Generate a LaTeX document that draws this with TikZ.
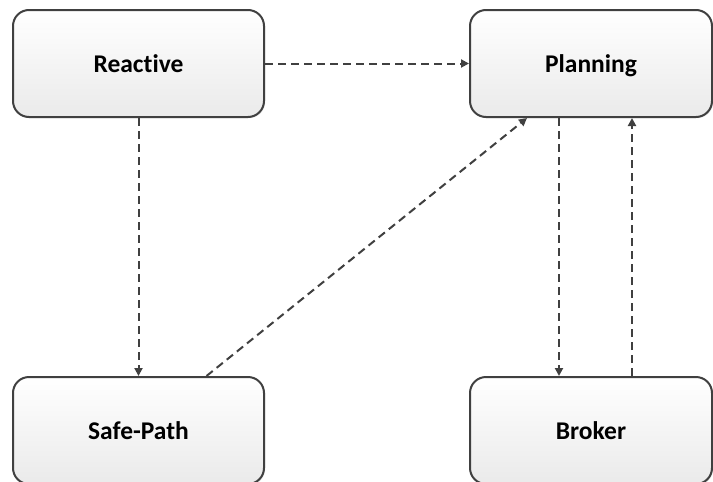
\documentclass[tikz,border=0pt]{standalone}
\usepackage{fontspec}
\setmainfont{Carlito}[RawFeature={-liga;-clig;-dlig}]
\usetikzlibrary{arrows.meta,shadows}
\definecolor{edge}{HTML}{404040}
\definecolor{boxbottom}{HTML}{EAEAEA}
\begin{document}
\begin{tikzpicture}[x=1pt,y=-1pt,
  block/.style={draw=edge, line width=2pt, rounded corners=16pt,
    top color=white, bottom color=boxbottom,
    drop shadow={opacity=0.18, shadow xshift=1.2pt, shadow yshift=-1.2pt},
    minimum height=107pt, inner sep=0pt, text height=20pt, text depth=3pt,
    font=\fontsize{25.5}{30}\selectfont\bfseries, text=black},
  flow/.style={draw=edge, line width=2pt, dash pattern=on 8pt off 5pt,
    -{Triangle[length=8pt,width=8pt]}}]
  \useasboundingbox (0,0) rectangle (713,482);
  \begin{scope}
    \clip (0,0) rectangle (713,482);
    % the four components
    \node[block, minimum width=251pt] (reactive) at (138.5,63.5) {Reactive};
    \node[block, minimum width=242pt] (planning) at (591,63.5) {Planning};
    \node[block, minimum width=251pt] (safepath) at (138.5,430.5) {Safe-Path};
    \node[block, minimum width=242pt] (broker) at (591,430.5) {Broker};
  \end{scope}
  % message flows between components
  \draw[flow] (reactive.east) -- (planning.west);
  \draw[flow] (reactive.south) -- (safepath.north);
  \draw[flow] ([xshift=68pt]safepath.north) -- ([xshift=-64pt]planning.south);
  \draw[flow] ([xshift=-32pt]planning.south) -- ([xshift=-32pt]broker.north);
  \draw[flow] ([xshift=41pt]broker.north) -- ([xshift=41pt]planning.south);
\end{tikzpicture}
\end{document}
